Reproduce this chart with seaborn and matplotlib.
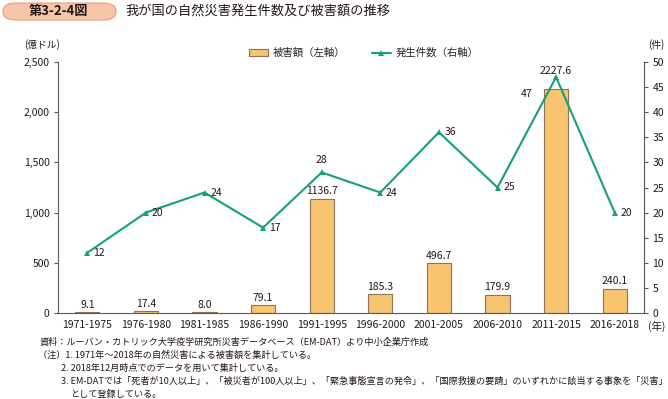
import numpy as np
import pandas as pd
import matplotlib
matplotlib.use('Agg')
import matplotlib.pyplot as plt
import matplotlib.ticker as ticker
from matplotlib.patches import FancyBboxPatch, Patch
from matplotlib.lines import Line2D
import seaborn as sns

# data
periods = ['1971-1975', '1976-1980', '1981-1985', '1986-1990', '1991-1995',
           '1996-2000', '2001-2005', '2006-2010', '2011-2015', '2016-2018']
damage = [9.1, 17.4, 8.0, 79.1, 1136.7, 185.3, 496.7, 179.9, 2227.6, 240.1]
counts = [12, 20, 24, 17, 28, 24, 36, 25, 47, 20]

df = pd.DataFrame({'period': periods, 'damage': damage, 'count': counts})

sns.set_style('white')
plt.rcParams['font.family'] = ['Noto Sans CJK JP', 'DejaVu Sans']

bar_color = '#F9C46F'
bar_edge = '#8C7455'
line_color = '#14A078'
text_color = '#231815'

W, H = 668, 399
fig = plt.figure(figsize=(W / 100, H / 100), dpi=100)
ax = fig.add_axes([58 / W, 1 - 313 / H, (644 - 58) / W, (313 - 62) / H])

sns.barplot(data=df, x='period', y='damage', ax=ax, color=bar_color,
            edgecolor=bar_edge, linewidth=0.8, width=0.41, saturation=1)
ax.set_ylim(0, 2500)
ax.set_xlim(-0.5, len(periods) - 0.5)
ax.yaxis.set_major_locator(ticker.MultipleLocator(500))
ax.yaxis.set_major_formatter(ticker.StrMethodFormatter('{x:,.0f}'))
ax.set_xlabel('')
ax.set_ylabel('')

ax2 = ax.twinx()
sns.lineplot(x=np.arange(len(periods)), y=counts, ax=ax2, color=line_color,
             linewidth=1.5, marker='^', markersize=5, markeredgewidth=0)
ax2.set_ylim(0, 50)
ax2.set_xlim(-0.5, len(periods) - 0.5)
ax2.yaxis.set_major_locator(ticker.MultipleLocator(5))

# damage labels above bars (the tallest one sits above the line marker)
for i, v in enumerate(damage):
    if i == 8:
        ax2.annotate(f'{v:.1f}', (i, counts[i]), xytext=(0, 1), textcoords='offset points',
                     ha='center', va='bottom', fontsize=7.5, color=text_color, zorder=5)
    else:
        ax.text(i, v + 25, f'{v:.1f}', ha='center', va='bottom', fontsize=7.5, color=text_color)

# count labels: offsets in points
offs = [(4, 0, 'left', 'center'), (4, 0, 'left', 'center'), (4, 0, 'left', 'center'),
        (4, 0, 'left', 'center'), (0, 5, 'center', 'bottom'), (4, 0, 'left', 'center'),
        (4, 0, 'left', 'center'), (4, 0, 'left', 'center'), (-21, -12, 'center', 'center'),
        (4, 0, 'left', 'center')]
for i, c in enumerate(counts):
    dx, dy, ha, va = offs[i]
    ax2.annotate(str(c), (i, c), xytext=(dx, dy), textcoords='offset points',
                 ha=ha, va=va, fontsize=7.5, color=text_color)

# spines and ticks
for a in (ax, ax2):
    a.spines['top'].set_visible(False)
    for s in ('left', 'right', 'bottom'):
        a.spines[s].set_color('#595757')
        a.spines[s].set_linewidth(0.8)
ax.spines['right'].set_visible(False)
ax2.spines['left'].set_visible(False)
ax2.spines['bottom'].set_visible(False)

ax.tick_params(axis='y', direction='out', length=3, width=0.8, color='#595757',
               labelsize=7.5, labelcolor=text_color, pad=3)
ax2.tick_params(axis='y', direction='out', length=3, width=0.8, color='#595757',
                labelsize=7.5, labelcolor=text_color, pad=3)
ax.set_xticks(range(len(periods)))
ax.set_xticklabels(periods)
ax.tick_params(axis='x', which='major', length=0, labelsize=7.5, labelcolor=text_color, pad=5)
ax.set_xticks(np.arange(0.5, len(periods) - 0.5, 1), minor=True)
ax.tick_params(axis='x', which='minor', direction='in', length=3, width=0.8, color='#595757')

# unit labels
fig.text(42 / W, 1 - 45 / H, '(億ドル)', ha='center', va='center', fontsize=7, color=text_color)
fig.text(664 / W, 1 - 45 / H, '(件)', ha='right', va='center', fontsize=7, color=text_color)
fig.text(665 / W, 1 - 326 / H, '(年)', ha='right', va='center', fontsize=7.5, color=text_color)

# legend
handles = [Patch(facecolor=bar_color, edgecolor=bar_edge, linewidth=0.8, label='被害額（左軸）'),
           Line2D([0], [0], color=line_color, linewidth=1.5, marker='^', markersize=5,
                  markeredgewidth=0, label='発生件数（右軸）')]
fig.legend(handles=handles, loc='center', bbox_to_anchor=(364 / W, 1 - 53 / H), ncol=2,
           frameon=False, fontsize=7.5, handlelength=1.8, handleheight=0.6,
           columnspacing=2.5, handletextpad=0.5)

# title box
box = FancyBboxPatch((3 / W, 1 - 20 / H), 113 / W, 17 / H,
                     boxstyle='round,pad=0,rounding_size=0.02', transform=fig.transFigure,
                     facecolor='#F7C5AA', edgecolor='#EE9A74', linewidth=0.8)
fig.patches.append(box)
fig.text(58 / W, 1 - 11.5 / H, '第3-2-4図', ha='center', va='center', fontsize=9.5,
         fontweight='bold', color=text_color)
fig.text(125 / W, 1 - 11.5 / H, '我が国の自然災害発生件数及び被害額の推移', ha='left', va='center',
         fontsize=9.5, color=text_color)

# footnotes
notes = [
    (40, 342, '資料：ルーバン・カトリック大学疫学研究所災害データベース（EM-DAT）より中小企業庁作成'),
    (38, 355, '（注）1. 1971年～2018年の自然災害による被害額を集計している。'),
    (61, 368, '2. 2018年12月時点でのデータを用いて集計している。'),
    (61, 381, '3. EM-DATでは「死者が10人以上」、「被災者が100人以上」、「緊急事態宣言の発令」、「国際救援の要請」のいずれかに該当する事象を「災害」'),
    (70, 394, 'として登録している。'),
]
for x, y, t in notes:
    fig.text(x / W, 1 - y / H, t, ha='left', va='center', fontsize=6.6, color=text_color)

fig.savefig('out.png', dpi=100)
